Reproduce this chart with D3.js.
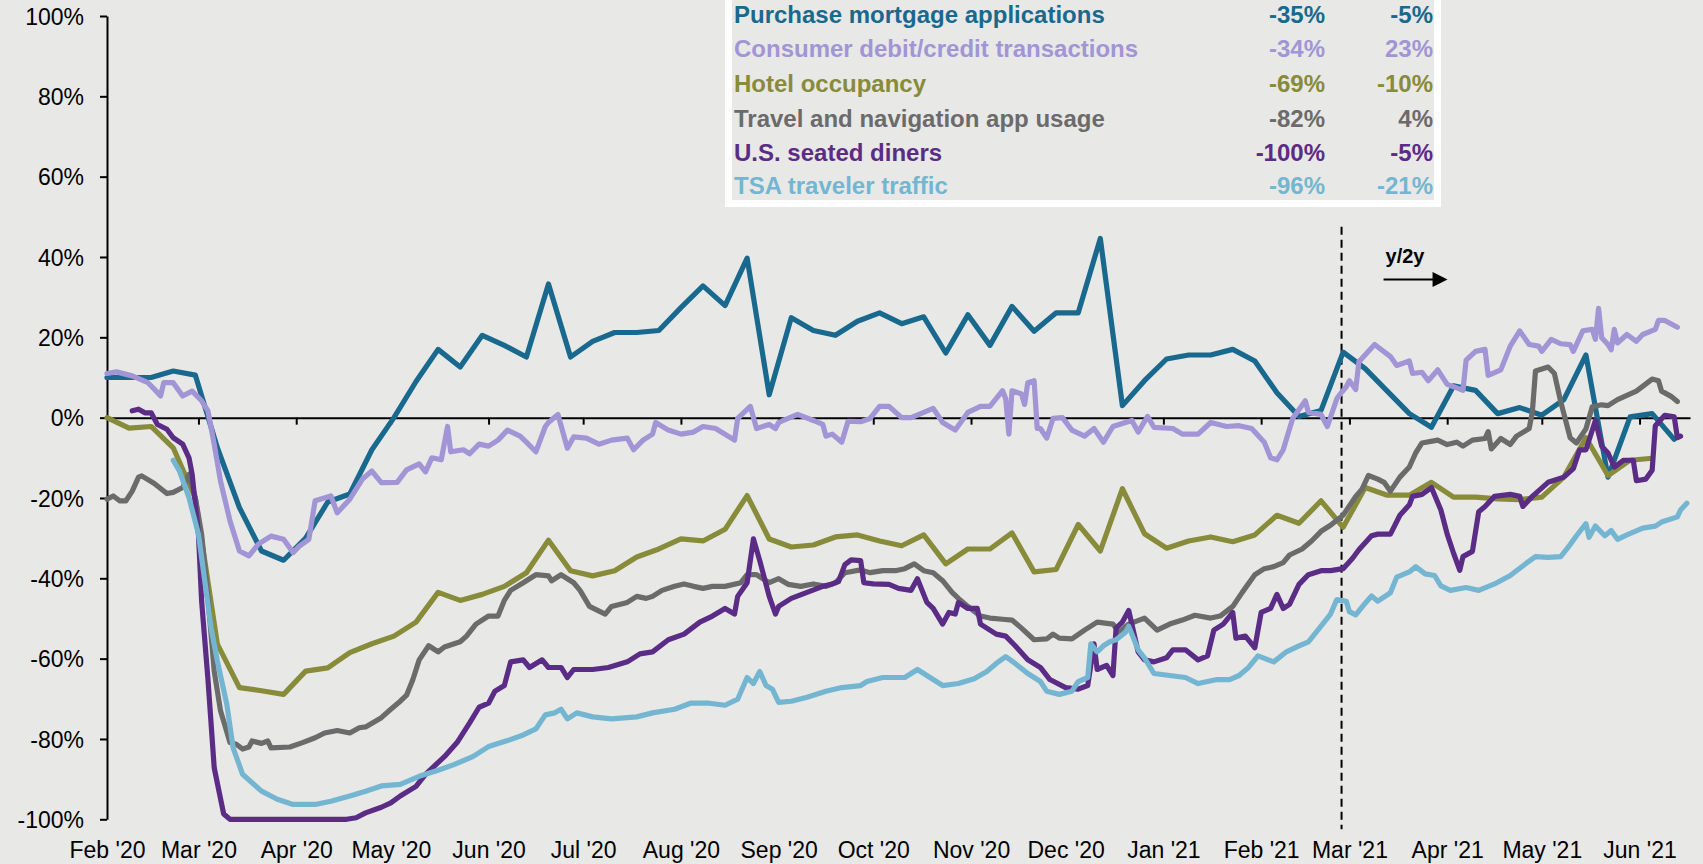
<!DOCTYPE html>
<html><head><meta charset="utf-8">
<script src="https://cdn.jsdelivr.net/npm/d3@7"></script>
<style>body{margin:0;background:#e8e8e6}svg{display:block}</style>
</head><body><svg id="chart" width="1703" height="864"></svg>
<script>
// ---------- DATA ----------
const monthLabels = ["Feb '20","Mar '20","Apr '20","May '20","Jun '20","Jul '20","Aug '20","Sep '20","Oct '20","Nov '20","Dec '20","Jan '21","Feb '21","Mar '21","Apr '21","May '21","Jun '21"];
const monthDates = ["2020-02-01","2020-03-01","2020-04-01","2020-05-01","2020-06-01","2020-07-01","2020-08-01","2020-09-01","2020-10-01","2020-11-01","2020-12-01","2021-01-01","2021-02-01","2021-03-01","2021-04-01","2021-05-01","2021-06-01"];
const yTicks = [-100,-80,-60,-40,-20,0,20,40,60,80,100];
const seriesNames = ["Purchase mortgage applications","Consumer debit/credit transactions","Hotel occupancy","Travel and navigation app usage","U.S. seated diners","TSA traveler traffic"];
const troughValues = [-35,-34,-69,-82,-100,-96];
const latestValues = [-5,23,-10,4,-5,-21];
const breakDate = "2021-02-26T12:00";

const mortgage = [["2020-02-01",10],["2020-02-08",10],["2020-02-15",10],["2020-02-22",11.6],["2020-02-29",10.6],["2020-03-07",-7.5],["2020-03-14",-22.4],["2020-03-21",-33.2],["2020-03-28",-35.5],["2020-04-04",-30],["2020-04-11",-21],["2020-04-18",-19],["2020-04-25",-8],["2020-05-02",0],["2020-05-09",9],["2020-05-16",17],["2020-05-23",12.6],["2020-05-30",20.5],["2020-06-06",18],["2020-06-13",15.1],["2020-06-20",33.3],["2020-06-27",15.1],["2020-07-04",19],["2020-07-11",21.2],["2020-07-18",21.2],["2020-07-25",21.7],["2020-08-01",27.4],["2020-08-08",32.8],["2020-08-15",27.9],["2020-08-22",39.7],["2020-08-29",5.7],["2020-09-05",24.9],["2020-09-12",21.7],["2020-09-19",20.5],["2020-09-26",24],["2020-10-03",26.1],["2020-10-10",23.4],["2020-10-17",25.1],["2020-10-24",16.1],["2020-10-31",25.6],["2020-11-07",18],["2020-11-14",27.7],["2020-11-21",21.5],["2020-11-28",26.1],["2020-12-05",26.1],["2020-12-12",44.6],["2020-12-19",3],["2020-12-26",9.2],["2021-01-02",14.6],["2021-01-09",15.6],["2021-01-16",15.6],["2021-01-23",17],["2021-01-30",14.1],["2021-02-06",6.2],["2021-02-13",0.3],["2021-02-20",1.8],["2021-02-27",16.3],["2021-03-06",12.2],["2021-03-20",1],["2021-03-27",-2.4],["2021-04-03",7.9],["2021-04-10",6.8],["2021-04-17",1],["2021-04-24",2.5],["2021-05-01",0.6],["2021-05-08",4.5],["2021-05-15",15.6],["2021-05-22",-14.8],["2021-05-29",0.2],["2021-06-05",1],["2021-06-12",-5.4]];

const consumer = [["2020-02-01",11],["2020-02-04",11.4],["2020-02-09",10.4],["2020-02-14",8.7],["2020-02-16",7.1],["2020-02-18",5.4],["2020-02-19",8.7],["2020-02-22",8.7],["2020-02-25",5.4],["2020-02-28",6.6],["2020-03-02",4.2],["2020-03-04",1.7],["2020-03-06",-6.6],["2020-03-08",-15.8],["2020-03-11",-25.7],["2020-03-14",-33.2],["2020-03-17",-34.4],["2020-03-20",-31.5],["2020-03-24",-29.5],["2020-03-28",-30.3],["2020-03-31",-33.6],["2020-04-02",-32],["2020-04-05",-30.3],["2020-04-07",-20.7],["2020-04-12",-19.5],["2020-04-14",-23.7],["2020-04-18",-20.3],["2020-04-22",-15.3],["2020-04-25",-13.3],["2020-04-28",-16.2],["2020-05-03",-16.1],["2020-05-06",-13],["2020-05-10",-11.5],["2020-05-12",-13.5],["2020-05-14",-10],["2020-05-17",-10.5],["2020-05-19",-2.2],["2020-05-20",-8.5],["2020-05-24",-8],["2020-05-26",-9],["2020-05-29",-6.6],["2020-06-01",-7.1],["2020-06-04",-5.6],["2020-06-07",-3.1],["2020-06-11",-4.6],["2020-06-13",-6.1],["2020-06-16",-8.5],["2020-06-19",-2.2],["2020-06-20",-1.2],["2020-06-23",0.8],["2020-06-26",-7.6],["2020-06-28",-4.8],["2020-07-02",-5.1],["2020-07-06",-6.6],["2020-07-10",-5.6],["2020-07-15",-5.1],["2020-07-17",-8],["2020-07-20",-5.6],["2020-07-23",-4.1],["2020-07-24",-1.2],["2020-07-28",-3.1],["2020-08-01",-4.1],["2020-08-05",-3.6],["2020-08-08",-2.2],["2020-08-12",-2.7],["2020-08-18",-5.6],["2020-08-19",-0.2],["2020-08-23",2.8],["2020-08-25",-2.7],["2020-08-29",-1.7],["2020-08-31",-2.7],["2020-09-01",-1.2],["2020-09-07",0.8],["2020-09-12",-0.7],["2020-09-15",-1.7],["2020-09-16",-4.6],["2020-09-18",-4.1],["2020-09-21",-6.1],["2020-09-23",-0.9],["2020-09-27",-1],["2020-09-30",-0.2],["2020-10-03",2.8],["2020-10-06",2.8],["2020-10-10",0],["2020-10-13",0],["2020-10-17",1.3],["2020-10-20",2.3],["2020-10-23",-1.2],["2020-10-27",-3.1],["2020-10-31",1.3],["2020-11-04",2.8],["2020-11-07",2.8],["2020-11-11",6.7],["2020-11-12",4.7],["2020-11-13",-4.1],["2020-11-14",6.7],["2020-11-17",5.9],["2020-11-18",3.3],["2020-11-19",8.7],["2020-11-21",9.2],["2020-11-22",-2.7],["2020-11-23",-2.7],["2020-11-25",-5.1],["2020-11-27",-0.2],["2020-11-30",0],["2020-12-03",-3.1],["2020-12-07",-4.6],["2020-12-10",-2.7],["2020-12-13",-6.1],["2020-12-16",-2.2],["2020-12-20",-1.2],["2020-12-22",-0.7],["2020-12-24",-3.6],["2020-12-27",0.3],["2020-12-29",-2.4],["2021-01-04",-2.7],["2021-01-07",-4.1],["2021-01-12",-4.1],["2021-01-16",-1.2],["2021-01-21",-2.2],["2021-01-25",-2],["2021-01-29",-2.7],["2021-02-02",-6.1],["2021-02-04",-10],["2021-02-06",-10.5],["2021-02-08",-8],["2021-02-11",-0.2],["2021-02-15",4.2],["2021-02-16",1.3],["2021-02-20",0.8],["2021-02-22",-2.2],["2021-02-25",4.7],["2021-02-26",5.8],["2021-02-28",7.7],["2021-03-01",9.2],["2021-03-03",7],["2021-03-04",13.9],["2021-03-09",18.2],["2021-03-14",15.2],["2021-03-16",13],["2021-03-20",14.1],["2021-03-21",11],["2021-03-24",11.3],["2021-03-26",9.2],["2021-03-29",11.9],["2021-04-01",8.3],["2021-04-04",7.4],["2021-04-06",6.8],["2021-04-07",14.3],["2021-04-10",16.5],["2021-04-13",17],["2021-04-14",10.5],["2021-04-18",11.9],["2021-04-21",17.8],["2021-04-24",21.6],["2021-04-27",18.2],["2021-04-30",17.8],["2021-05-01",16.5],["2021-05-04",19.5],["2021-05-07",18.4],["2021-05-10",18.2],["2021-05-11",16.5],["2021-05-14",21.6],["2021-05-17",22],["2021-05-18",19.5],["2021-05-19",27.2],["2021-05-20",19.9],["2021-05-22",18.2],["2021-05-23",16.9],["2021-05-24",22],["2021-05-25",18.6],["2021-05-28",20.7],["2021-05-31",19],["2021-06-02",20.7],["2021-06-06",22],["2021-06-07",24.2],["2021-06-09",24.2],["2021-06-13",22.5]];

const hotel = [["2020-02-01",0],["2020-02-08",-2.6],["2020-02-15",-2.2],["2020-02-22",-7.5],["2020-02-29",-20],["2020-03-07",-56.4],["2020-03-14",-67.2],["2020-03-21",-68],["2020-03-28",-68.9],["2020-04-04",-63.1],["2020-04-11",-62.3],["2020-04-18",-58.5],["2020-04-25",-56.3],["2020-05-02",-54.4],["2020-05-09",-50.9],["2020-05-16",-43.5],["2020-05-23",-45.5],["2020-05-30",-44],["2020-06-06",-42],["2020-06-13",-38.6],["2020-06-20",-30.5],["2020-06-27",-38.1],["2020-07-04",-39.4],["2020-07-11",-38.1],["2020-07-18",-34.7],["2020-07-25",-32.7],["2020-08-01",-30.2],["2020-08-08",-30.7],["2020-08-15",-27.8],["2020-08-22",-19.4],["2020-08-29",-30.2],["2020-09-05",-32.2],["2020-09-12",-31.7],["2020-09-19",-29.7],["2020-09-26",-29.2],["2020-10-03",-30.7],["2020-10-10",-31.9],["2020-10-17",-29.2],["2020-10-24",-36.4],["2020-10-31",-32.7],["2020-11-07",-32.7],["2020-11-14",-28.7],["2020-11-21",-38.4],["2020-11-28",-37.8],["2020-12-05",-26.6],["2020-12-12",-33.2],["2020-12-19",-17.7],["2020-12-26",-28.9],["2021-01-02",-32.5],["2021-01-09",-30.7],["2021-01-16",-29.7],["2021-01-23",-30.9],["2021-01-30",-29.2],["2021-02-06",-24.3],["2021-02-13",-26.3],["2021-02-20",-20.7],["2021-02-27",-27.3],["2021-03-06",-17.4],["2021-03-13",-19.3],["2021-03-20",-19.3],["2021-03-27",-16.1],["2021-04-03",-19.8],["2021-04-10",-19.8],["2021-04-17",-20.2],["2021-04-24",-20.4],["2021-05-01",-19.8],["2021-05-08",-14.8],["2021-05-15",-5],["2021-05-22",-14.4],["2021-05-29",-10.6],["2021-06-05",-10.1]];

const travelApp = [["2020-02-01",-20.3],["2020-02-03",-19.5],["2020-02-05",-20.7],["2020-02-07",-20.7],["2020-02-09",-18.3],["2020-02-11",-14.8],["2020-02-12",-14.5],["2020-02-16",-16.4],["2020-02-20",-18.9],["2020-02-22",-18.6],["2020-02-25",-17.4],["2020-02-27",-14.1],["2020-02-29",-19.9],["2020-03-02",-29],["2020-03-04",-44.8],["2020-03-06",-63.1],["2020-03-08",-73],["2020-03-11",-80.9],["2020-03-13",-81.3],["2020-03-15",-82.5],["2020-03-17",-82],["2020-03-18",-80.5],["2020-03-21",-81.1],["2020-03-23",-80.5],["2020-03-24",-82.2],["2020-03-30",-82],["2020-04-03",-80.9],["2020-04-07",-79.7],["2020-04-10",-78.5],["2020-04-14",-77.9],["2020-04-18",-78.5],["2020-04-21",-77.2],["2020-04-23",-77],["2020-04-28",-74.7],["2020-05-01",-72.6],["2020-05-04",-70.6],["2020-05-06",-69.1],["2020-05-08",-65.2],["2020-05-10",-60.3],["2020-05-13",-56.8],["2020-05-16",-58.3],["2020-05-18",-57.1],["2020-05-23",-55.8],["2020-05-25",-54.4],["2020-05-28",-51.4],["2020-06-01",-49.4],["2020-06-04",-49.4],["2020-06-06",-45.5],["2020-06-08",-43],["2020-06-12",-41.1],["2020-06-16",-39.1],["2020-06-20",-39.4],["2020-06-21",-40.6],["2020-06-24",-39.1],["2020-06-28",-41.1],["2020-06-30",-43],["2020-07-03",-47],["2020-07-08",-48.9],["2020-07-10",-47],["2020-07-15",-46],["2020-07-18",-44.5],["2020-07-21",-45],["2020-07-23",-44.5],["2020-07-26",-43],["2020-07-30",-42],["2020-08-02",-41.4],["2020-08-05",-42],["2020-08-08",-42.5],["2020-08-11",-42],["2020-08-15",-42],["2020-08-20",-41.1],["2020-08-22",-39.1],["2020-08-25",-39.1],["2020-08-29",-41.1],["2020-09-01",-40.1],["2020-09-04",-41.5],["2020-09-08",-42],["2020-09-12",-41.4],["2020-09-16",-42],["2020-09-19",-41.1],["2020-09-22",-38.6],["2020-09-27",-37.9],["2020-09-30",-38.6],["2020-10-04",-38.1],["2020-10-08",-38.1],["2020-10-11",-37.6],["2020-10-14",-36.4],["2020-10-17",-38.1],["2020-10-20",-38.6],["2020-10-23",-40.6],["2020-10-26",-43.5],["2020-10-28",-45],["2020-10-31",-47],["2020-11-04",-49.4],["2020-11-07",-49.9],["2020-11-11",-50.2],["2020-11-14",-50.4],["2020-11-17",-52.4],["2020-11-21",-55.3],["2020-11-25",-55.1],["2020-11-27",-53.9],["2020-11-29",-54.9],["2020-12-03",-55.1],["2020-12-07",-52.9],["2020-12-11",-50.9],["2020-12-16",-51.4],["2020-12-18",-53.4],["2020-12-21",-51.4],["2020-12-26",-49.9],["2020-12-30",-52.9],["2021-01-03",-51.4],["2021-01-07",-50.4],["2021-01-11",-49.2],["2021-01-16",-49.9],["2021-01-19",-49.4],["2021-01-23",-47],["2021-01-26",-43.5],["2021-01-30",-39.1],["2021-02-02",-37.6],["2021-02-05",-37.1],["2021-02-08",-36.1],["2021-02-10",-34.2],["2021-02-14",-32.7],["2021-02-17",-30.7],["2021-02-20",-28.3],["2021-02-23",-26.8],["2021-02-27",-24.3],["2021-03-03",-19.6],["2021-03-05",-17.8],["2021-03-07",-14.4],["2021-03-10",-15.3],["2021-03-12",-16.1],["2021-03-14",-18.3],["2021-03-17",-14.8],["2021-03-20",-12.3],["2021-03-22",-8.8],["2021-03-24",-6.3],["2021-03-29",-5.6],["2021-04-01",-6.7],["2021-04-04",-6.1],["2021-04-06",-7.1],["2021-04-09",-5.6],["2021-04-13",-5.2],["2021-04-14",-3.5],["2021-04-15",-7.8],["2021-04-18",-5.2],["2021-04-21",-6.7],["2021-04-23",-4.6],["2021-04-27",-2.7],["2021-04-28",1.4],["2021-04-29",11.6],["2021-05-03",12.6],["2021-05-05",11],["2021-05-07",4],["2021-05-10",-5],["2021-05-12",-6.3],["2021-05-15",-2.8],["2021-05-17",2.7],["2021-05-20",3.2],["2021-05-22",3],["2021-05-25",4.5],["2021-05-31",6.6],["2021-06-05",9.6],["2021-06-07",9.2],["2021-06-08",6.6],["2021-06-11",5.3],["2021-06-13",4]];

const diners = [["2020-02-09",1.7],["2020-02-11",2.1],["2020-02-13",1.2],["2020-02-15",1.2],["2020-02-17",-1.7],["2020-02-20",-2.9],["2020-02-22",-5],["2020-02-25",-6.6],["2020-02-27",-10],["2020-02-28",-14.1],["2020-03-01",-29],["2020-03-02",-45.6],["2020-03-04",-65],["2020-03-06",-87.2],["2020-03-09",-98.7],["2020-03-11",-100],["2020-04-17",-100],["2020-04-20",-99.6],["2020-04-23",-98.4],["2020-04-28",-97],["2020-05-01",-95.9],["2020-05-04",-94.2],["2020-05-09",-91.8],["2020-05-12",-88.8],["2020-05-18",-84.4],["2020-05-22",-80.9],["2020-05-26",-76],["2020-05-29",-72.1],["2020-06-01",-71.1],["2020-06-03",-68.1],["2020-06-06",-66.7],["2020-06-08",-60.8],["2020-06-12",-60.3],["2020-06-14",-62.2],["2020-06-18",-60.3],["2020-06-20",-62.2],["2020-06-24",-62.2],["2020-06-26",-64.7],["2020-06-28",-62.7],["2020-07-04",-62.7],["2020-07-09",-62.2],["2020-07-15",-60.8],["2020-07-19",-58.8],["2020-07-23",-58.3],["2020-07-28",-55.3],["2020-08-02",-53.9],["2020-08-07",-50.9],["2020-08-11",-49.4],["2020-08-15",-47.5],["2020-08-18",-48.9],["2020-08-19",-44.5],["2020-08-22",-41.1],["2020-08-24",-30.2],["2020-08-26",-35.6],["2020-08-29",-44.5],["2020-08-31",-48.9],["2020-09-01",-47],["2020-09-05",-45],["2020-09-10",-43.5],["2020-09-15",-42],["2020-09-18",-41.4],["2020-09-20",-40.8],["2020-09-22",-36.6],["2020-09-24",-35.4],["2020-09-27",-35.6],["2020-09-28",-41.1],["2020-10-01",-41.4],["2020-10-06",-41.5],["2020-10-09",-42.5],["2020-10-13",-43],["2020-10-15",-40.1],["2020-10-18",-46],["2020-10-20",-47.5],["2020-10-23",-51.4],["2020-10-25",-48.5],["2020-10-27",-48.9],["2020-10-28",-46],["2020-10-31",-47.5],["2020-11-03",-47.5],["2020-11-04",-51.4],["2020-11-09",-53.9],["2020-11-12",-54.4],["2020-11-15",-56.8],["2020-11-19",-60.3],["2020-11-23",-62.2],["2020-11-26",-65.2],["2020-12-01",-67.2],["2020-12-05",-67.6],["2020-12-08",-66.7],["2020-12-10",-56.3],["2020-12-11",-62.7],["2020-12-14",-61.7],["2020-12-16",-64.2],["2020-12-17",-52.4],["2020-12-19",-50.9],["2020-12-21",-48],["2020-12-24",-58.3],["2020-12-26",-60.3],["2020-12-29",-60.8],["2021-01-02",-59.8],["2021-01-04",-57.8],["2021-01-08",-57.8],["2021-01-12",-60.3],["2021-01-15",-59.3],["2021-01-17",-52.9],["2021-01-20",-51.4],["2021-01-23",-48.5],["2021-01-24",-54.9],["2021-01-27",-54.4],["2021-01-30",-57.3],["2021-02-01",-48.5],["2021-02-04",-47.5],["2021-02-06",-44],["2021-02-08",-47.5],["2021-02-10",-46.5],["2021-02-13",-41.5],["2021-02-16",-39.1],["2021-02-20",-38.1],["2021-02-23",-38.1],["2021-02-27",-37.6],["2021-03-02",-35],["2021-03-04",-32.9],["2021-03-08",-29.4],["2021-03-10",-29],["2021-03-14",-29],["2021-03-17",-24.3],["2021-03-20",-21.7],["2021-03-21",-19.6],["2021-03-24",-19.1],["2021-03-27",-17.4],["2021-03-30",-23],["2021-04-01",-29],["2021-04-03",-33.7],["2021-04-05",-38],["2021-04-06",-34.6],["2021-04-09",-33.3],["2021-04-11",-23.4],["2021-04-13",-22.1],["2021-04-16",-19.6],["2021-04-21",-19.1],["2021-04-24",-19.6],["2021-04-25",-22.1],["2021-04-28",-19.6],["2021-05-03",-16.1],["2021-05-08",-14.8],["2021-05-11",-12.7],["2021-05-13",-8],["2021-05-15",-8],["2021-05-18",-0.7],["2021-05-20",-7.1],["2021-05-22",-8.8],["2021-05-24",-12.3],["2021-05-27",-10.6],["2021-05-30",-10.6],["2021-05-31",-15.7],["2021-06-03",-15.3],["2021-06-05",-13.1],["2021-06-06",-2],["2021-06-09",0.6],["2021-06-12",0.2],["2021-06-13",-5],["2021-06-14",-4.6]];

const tsa = [["2020-02-22",-10.6],["2020-02-24",-13.3],["2020-02-27",-19.9],["2020-03-01",-29],["2020-03-05",-52.3],["2020-03-07",-60.6],["2020-03-10",-71.4],["2020-03-12",-82.2],["2020-03-15",-88.8],["2020-03-21",-93],["2020-03-26",-95],["2020-03-31",-96.3],["2020-04-07",-96.3],["2020-04-12",-95.5],["2020-04-18",-94.2],["2020-04-23",-93],["2020-04-28",-91.7],["2020-05-04",-91.3],["2020-05-10",-89.3],["2020-05-16",-87.8],["2020-05-21",-86.4],["2020-05-27",-84.4],["2020-06-01",-81.9],["2020-06-07",-80.4],["2020-06-12",-79],["2020-06-16",-77.5],["2020-06-19",-74],["2020-06-22",-73.5],["2020-06-24",-72.6],["2020-06-26",-75],["2020-06-29",-73.5],["2020-07-04",-74.5],["2020-07-10",-75],["2020-07-18",-74.5],["2020-07-23",-73.5],["2020-07-30",-72.6],["2020-08-04",-71.1],["2020-08-10",-71.1],["2020-08-15",-71.6],["2020-08-19",-70.1],["2020-08-22",-64.7],["2020-08-24",-66.2],["2020-08-26",-63.2],["2020-08-28",-66.7],["2020-08-30",-67.6],["2020-09-01",-70.9],["2020-09-05",-70.6],["2020-09-10",-69.6],["2020-09-16",-68.1],["2020-09-21",-67.2],["2020-09-27",-66.7],["2020-09-29",-65.7],["2020-10-04",-64.7],["2020-10-11",-64.7],["2020-10-15",-62.7],["2020-10-18",-64.2],["2020-10-23",-66.7],["2020-10-28",-66.2],["2020-11-02",-65],["2020-11-06",-63.2],["2020-11-09",-61.2],["2020-11-12",-59.5],["2020-11-15",-61.2],["2020-11-19",-63.7],["2020-11-23",-65.7],["2020-11-25",-68.1],["2020-11-29",-68.9],["2020-12-03",-68.1],["2020-12-05",-65.7],["2020-12-08",-64.7],["2020-12-09",-56.3],["2020-12-11",-58.3],["2020-12-13",-56.8],["2020-12-15",-55.8],["2020-12-17",-55.3],["2020-12-20",-53.4],["2020-12-21",-51.9],["2020-12-24",-57.8],["2020-12-26",-59.8],["2020-12-29",-63.7],["2021-01-03",-64.2],["2021-01-08",-64.7],["2021-01-12",-66.2],["2021-01-18",-65.2],["2021-01-22",-65.2],["2021-01-25",-64.2],["2021-01-28",-62.2],["2021-01-31",-59.3],["2021-02-05",-60.8],["2021-02-09",-58.3],["2021-02-13",-56.8],["2021-02-16",-55.8],["2021-02-20",-51.9],["2021-02-23",-48.9],["2021-02-25",-45.3],["2021-02-28",-45.7],["2021-03-01",-48.3],["2021-03-03",-49.1],["2021-03-06",-46.2],["2021-03-08",-44.4],["2021-03-10",-45.7],["2021-03-14",-43.6],["2021-03-16",-39.7],["2021-03-20",-38.4],["2021-03-22",-37.1],["2021-03-25",-38.9],["2021-03-28",-39.3],["2021-03-30",-41.9],["2021-04-02",-43],["2021-04-07",-42.3],["2021-04-11",-43],["2021-04-16",-41.4],["2021-04-21",-39.3],["2021-04-26",-36.3],["2021-04-29",-34.6],["2021-05-03",-34.8],["2021-05-07",-34.6],["2021-05-10",-31.6],["2021-05-12",-29.4],["2021-05-15",-26.4],["2021-05-16",-29.8],["2021-05-18",-27],["2021-05-21",-29.4],["2021-05-23",-28.1],["2021-05-25",-30.3],["2021-05-28",-29.2],["2021-06-02",-27.5],["2021-06-06",-27],["2021-06-08",-26],["2021-06-13",-24.7],["2021-06-14",-23],["2021-06-16",-21.3]];

// ---------- STYLE ----------
const colors = ["#19698e","#a195d6","#878b3a","#6b6b6b","#5b2c86","#74b6d1"];
const seriesData = [mortgage, consumer, hotel, travelApp, diners, tsa];
const BG = "#e8e8e6";
const FONT = "'Liberation Sans', Arial, sans-serif";

// ---------- CHART ----------
const W = 1703, H = 864;
const parse = d3.isoParse;
const x = d3.scaleTime().domain([parse("2020-02-01"), parse("2021-06-17")]).range([107, 1690]);
const y = d3.scaleLinear().domain([-100, 100]).range([819.3, 16]);

const svg = d3.select("#chart");
svg.append("rect").attr("width", W).attr("height", H).attr("fill", BG);

// legend table box
svg.append("rect").attr("x", 725).attr("y", -10).attr("width", 716).attr("height", 217).attr("fill", "#ffffff");
svg.append("rect").attr("x", 732).attr("y", -10).attr("width", 702).attr("height", 210).attr("fill", BG);

// y axis
const yAxis = d3.axisLeft(y).tickValues(yTicks).tickSize(7).tickSizeOuter(0).tickPadding(16).tickFormat(d => d + "%");
const gy = svg.append("g").attr("transform", `translate(${x.range()[0]},0)`).call(yAxis);
gy.select(".domain").attr("stroke", "#000").attr("stroke-width", 2);
gy.selectAll(".tick line").attr("stroke", "#000").attr("stroke-width", 2);
gy.selectAll(".tick text").attr("font-family", FONT).attr("font-size", 23).attr("fill", "#000").attr("dy", "0.36em");

// zero line with month ticks
const zeroAxis = d3.axisBottom(x).tickValues(monthDates.slice(1).map(parse)).tickSize(7).tickSizeOuter(0).tickFormat("");
const gz = svg.append("g").attr("transform", `translate(0,${y(0)})`).call(zeroAxis);
gz.select(".domain").attr("stroke", "#000").attr("stroke-width", 2);
gz.selectAll(".tick line").attr("stroke", "#000").attr("stroke-width", 2);

// month labels at bottom
const monthScale = d3.scaleOrdinal().domain(monthDates).range(monthLabels);
const gx = svg.append("g").attr("transform", `translate(0,${y(-100)})`)
  .call(d3.axisBottom(x).tickValues(monthDates.map(parse)).tickSize(0).tickPadding(22)
    .tickFormat(d => monthScale(d3.timeFormat("%Y-%m-%d")(d))));
gx.select(".domain").remove();
gx.selectAll(".tick text").attr("font-family", FONT).attr("font-size", 23).attr("fill", "#000");

// dashed break line
svg.append("line")
  .attr("x1", x(parse(breakDate))).attr("x2", x(parse(breakDate)))
  .attr("y1", y(47.5)).attr("y2", y(-102.5))
  .attr("stroke", "#000").attr("stroke-width", 2).attr("stroke-dasharray", "8,5");

// y/2y annotation
const ax0 = x(parse(breakDate)) + 42;
svg.append("text").attr("x", ax0 + 2).attr("y", y(38.6)).attr("font-family", FONT).attr("font-weight", "bold")
  .attr("font-size", 20).attr("fill", "#000").text("y/2y");
svg.append("line").attr("x1", ax0).attr("x2", ax0 + 52).attr("y1", y(34.4)).attr("y2", y(34.4))
  .attr("stroke", "#000").attr("stroke-width", 2);
svg.append("path").attr("d", `M${ax0 + 49},${y(34.4) - 7.5}L${ax0 + 64},${y(34.4)}L${ax0 + 49},${y(34.4) + 7.5}Z`).attr("fill", "#000");

// series lines
const line = d3.line().x(d => x(parse(d[0]))).y(d => y(d[1]));
seriesData.forEach((s, i) => {
  svg.append("path").datum(s).attr("d", line).attr("fill", "none")
    .attr("stroke", colors[i]).attr("stroke-width", 5.2)
    .attr("stroke-linejoin", "round").attr("stroke-linecap", "round");
});

// legend table text
const rowBase = [22.7, 57.3, 92.3, 126.7, 161, 193.5];
const fmtPct = v => v + "%";
seriesNames.forEach((n, i) => {
  const t = (xx, anchor, txt) => svg.append("text").attr("x", xx).attr("y", rowBase[i])
    .attr("text-anchor", anchor).attr("font-family", FONT).attr("font-weight", "bold")
    .attr("font-size", 24).attr("fill", colors[i]).text(txt);
  t(734, "start", n);
  t(1325, "end", fmtPct(troughValues[i]));
  t(1433, "end", fmtPct(latestValues[i]));
});
</script></body></html>
